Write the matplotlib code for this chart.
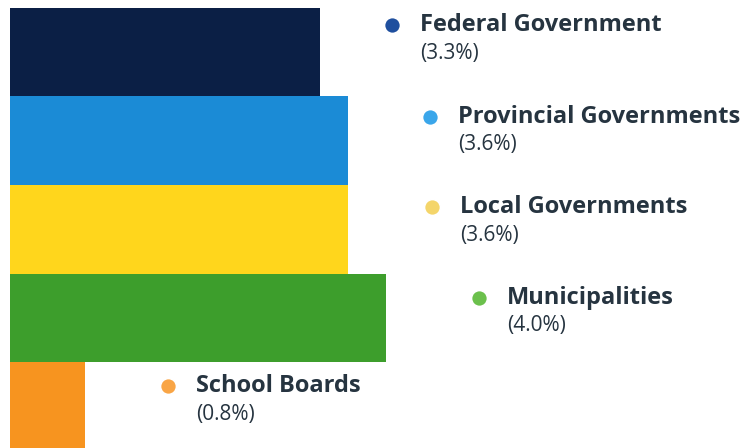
import matplotlib.pyplot as plt
import numpy as np

# data
sectors = ['Federal Government', 'Provincial Governments', 'Local Governments',
           'Municipalities', 'School Boards']
shares = [3.3, 3.6, 3.6, 4.0, 0.8]

bar_colors = ['#0b1f45', '#1b8bd6', '#ffd61c', '#3d9e2c', '#f7941f']
dot_colors = ['#1f4f9e', '#3aa6ea', '#f4d56a', '#6bc04c', '#f9a545']
# label anchor offsets from the bar end (pixels)
dx = [72, 82, 84, 93, 83]
dy = [27, 24, 22, 20, 20]

text_col = '#263440'

fig = plt.figure(figsize=(7.47, 4.48), dpi=100)
ax = fig.add_axes([0, 0, 1, 1])

y = np.arange(len(sectors))
ax.barh(y, shares, height=1.0, color=bar_colors, left=0)

for i in range(len(sectors)):
    ax.plot([shares[i] + dx[i] / 94.0], [y[i] - dy[i] / 88.5], 'o', ms=11.5,
            color=dot_colors[i], mec='white', mew=1.2, clip_on=False)
    ax.annotate(sectors[i], xy=(shares[i], y[i]), xycoords='data',
                xytext=(dx[i] + 28, dy[i]), textcoords='offset pixels',
                ha='left', va='center', fontsize=17, fontweight='bold',
                family='Open Sans', color=text_col)
    ax.annotate('(%.1f%%)' % shares[i], xy=(shares[i], y[i]), xycoords='data',
                xytext=(dx[i] + 28, dy[i] - 28), textcoords='offset pixels',
                ha='left', va='center', fontsize=15,
                family='Open Sans', color=text_col)

ax.set_xlim(-10 / 94.0, 737 / 94.0)
ax.set_ylim(-0.5 + 440 / 88.5, -0.5 - 8 / 88.5)
ax.axis('off')

fig.savefig('out.png', dpi=100, facecolor='white')
